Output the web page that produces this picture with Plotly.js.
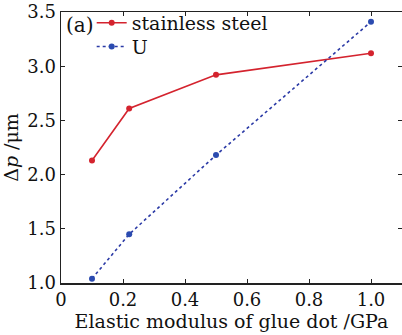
<!DOCTYPE html>
<html><head><meta charset="utf-8">
<script src="https://cdn.plot.ly/plotly-3.0.1.min.js"></script>
<style>body{margin:0;background:#fff}#c{width:402px;height:335px}</style>
</head><body><div id="c"></div>
<script>
const xSteel = [0.1, 0.22, 0.5, 1.0];
const ySteel = [2.13, 2.61, 2.92, 3.12];
const xU = [0.1, 0.22, 0.5, 1.0];
const yU = [1.04, 1.45, 2.18, 3.41];
const xTicks = [0, 0.2, 0.4, 0.6, 0.8, 1.0];
const xTickText = ['0', '0.2', '0.4', '0.6', '0.8', '1.0'];
const yTicks = [1.0, 1.5, 2.0, 2.5, 3.0, 3.5];
const yTickText = ['1.0', '1.5', '2.0', '2.5', '3.0', '3.5'];

const fam = 'DejaVu Serif, Liberation Serif, serif';
const font = {family: fam, size: 18, color: '#111'};
const traces = [
  {x: xSteel, y: ySteel, name: 'stainless steel', mode: 'lines+markers', legend: 'legend',
   line: {color: '#d4232e', width: 1.6}, marker: {color: '#d4232e', size: 6}},
  {x: xU, y: yU, name: 'U', mode: 'lines+markers', legend: 'legend2',
   line: {color: '#2b3aa6', width: 1.6, dash: 'dot'}, marker: {color: '#2b4bb0', size: 6}}
];
const axisCommon = {showgrid: false, zeroline: false, showline: true, linecolor: '#222', linewidth: 1.5,
  ticks: 'inside', ticklen: 4, tickcolor: '#222', mirror: 'ticks', tickfont: font};
const legFont = {family: fam, size: 19, color: '#111'};
const layout = {
  width: 402, height: 335,
  margin: {l: 61, r: 0, t: 12, b: 52},
  paper_bgcolor: '#fff', plot_bgcolor: '#fff',
  font: font,
  showlegend: true,
  legend: {x: 0.09, y: 0.96, xanchor: 'left', yanchor: 'middle', bgcolor: 'rgba(0,0,0,0)',
    font: legFont, itemwidth: 30},
  legend2: {x: 0.09, y: 0.872, xanchor: 'left', yanchor: 'middle', bgcolor: 'rgba(0,0,0,0)',
    font: legFont, itemwidth: 30},
  xaxis: Object.assign({}, axisCommon, {range: [0, 1.1], tickvals: xTicks, ticktext: xTickText,
    title: {text: 'Elastic modulus of glue dot /GPa', font: {family: fam, size: 19, color: '#111'}, standoff: 0}}),
  yaxis: Object.assign({}, axisCommon, {range: [1.0, 3.5], tickvals: yTicks, ticktext: yTickText,
    title: {text: 'Δ<i>p</i> /μm', font: {family: fam, size: 19, color: '#111'}, standoff: 4}}),
  annotations: [{text: '(a)', xref: 'paper', yref: 'paper', x: 0.01, y: 0.952, xanchor: 'left', yanchor: 'middle',
    showarrow: false, font: {family: fam, size: 20, color: '#111'}}]
};
Plotly.newPlot('c', traces, layout, {displayModeBar: false, staticPlot: true});
</script></body></html>
